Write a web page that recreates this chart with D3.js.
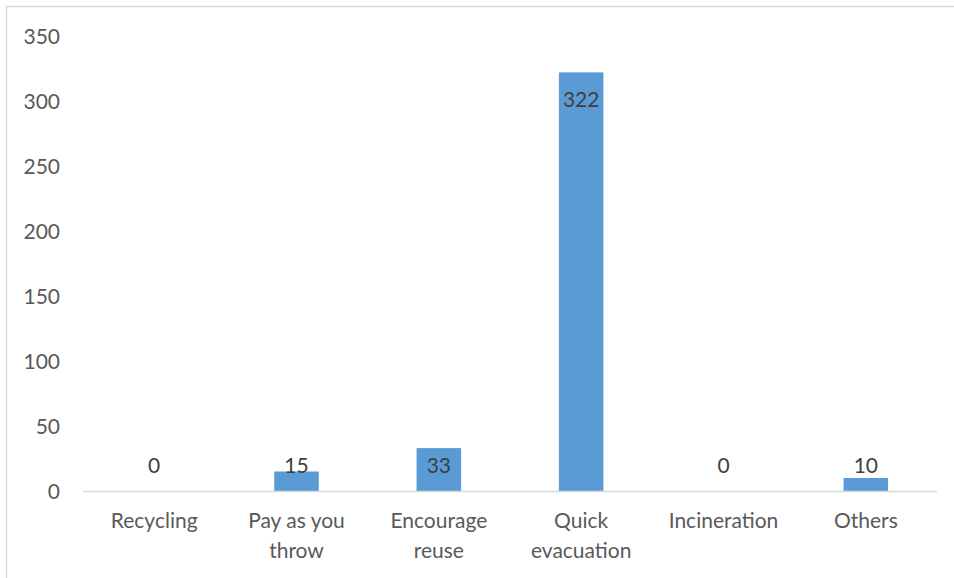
<!DOCTYPE html>
<html><head><meta charset="utf-8">
<script src="https://cdn.jsdelivr.net/npm/d3@7"></script>
<style>body{margin:0;background:#fff;} svg{display:block;}</style>
</head><body>
<svg id="c" width="954" height="578"></svg>
<script>
const categories = [["Recycling"], ["Pay as you", "throw"], ["Encourage", "reuse"], ["Quick", "evacuation"], ["Incineration"], ["Others"]];
const values = [0, 15, 33, 322, 0, 10];
const yTicks = [0, 50, 100, 150, 200, 250, 300, 350];

const svg = d3.select("#c");
const font = "Lato, 'Open Sans', sans-serif";
const fs = 21;
const m = {left: 83, right: 937, top: 36, bottom: 491};

svg.append("rect").attr("x", 6.5).attr("y", 6.5).attr("width", 1000).attr("height", 1000)
  .attr("fill", "#fff").attr("stroke", "#d9d9d9").attr("stroke-width", 1.5);

const x = d3.scaleBand().domain(d3.range(categories.length)).range([m.left, m.right]).paddingInner(0.687).paddingOuter(0.3435);
const y = d3.scaleLinear().domain([0, 350]).range([m.bottom, m.top]);

// y axis labels
const ya = svg.append("g").attr("transform", `translate(${m.left - 23},0)`)
  .call(d3.axisLeft(y).tickValues(yTicks).tickSize(0).tickPadding(0));
ya.select(".domain").remove();
ya.selectAll("text").attr("font-family", font).attr("font-size", fs).attr("fill", "#595959").attr("dy", "0.36em");

// bars
svg.selectAll(".bar").data(values).join("rect")
  .attr("x", (d, i) => x(i)).attr("width", x.bandwidth())
  .attr("y", d => y(d)).attr("height", d => y(0) - y(d))
  .attr("fill", "#5b9bd5");

// x axis line
svg.append("line").attr("x1", m.left).attr("x2", m.right).attr("y1", y(0) + 0.5).attr("y2", y(0) + 0.5)
  .attr("stroke", "#d9d9d9").attr("stroke-width", 1.5);

// value labels
svg.selectAll(".val").data(values).join("text")
  .attr("x", (d, i) => x(i) + x.bandwidth() / 2)
  .attr("y", d => Math.min(y(d) + 35, y(0) - 18))
  .attr("text-anchor", "middle").attr("font-family", font).attr("font-size", fs).attr("fill", "#404040")
  .text(d => d);

// category labels
const cl = svg.selectAll(".cat").data(categories).join("text")
  .attr("text-anchor", "middle").attr("font-family", font).attr("font-size", fs).attr("fill", "#595959")
  .attr("transform", (d, i) => `translate(${x(i) + x.bandwidth() / 2},528)`);
cl.selectAll("tspan").data(d => d).join("tspan")
  .attr("x", 0).attr("y", (d, j) => j * 30).text(d => d);
</script>
</body></html>
